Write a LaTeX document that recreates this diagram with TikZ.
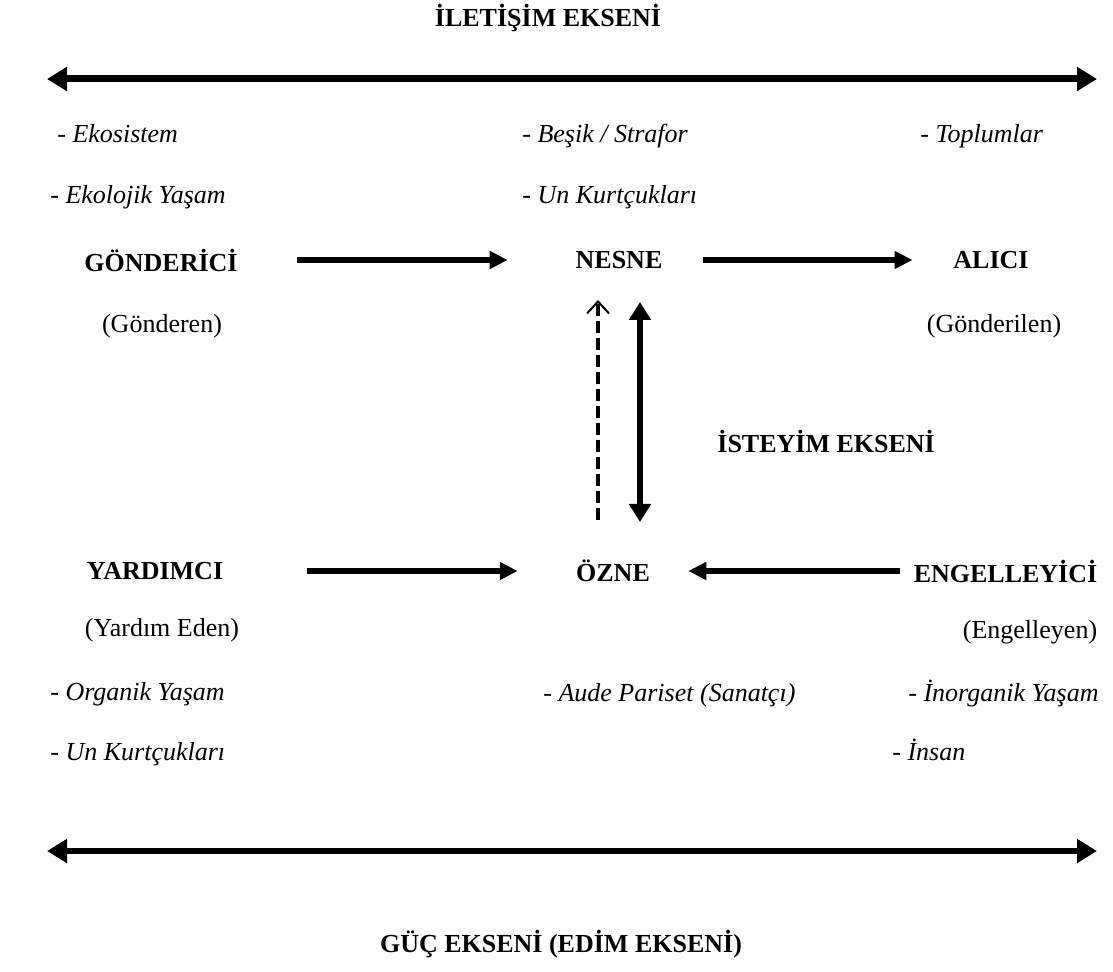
\documentclass[tikz,border=0pt]{standalone}
\usepackage{fontspec}
\setmainfont{Liberation Serif}
\usetikzlibrary{arrows.meta,positioning}

\newcommand{\yazi}{\fontsize{13}{15}\selectfont}

\tikzset{
    every node/.style={inner sep=0pt},
    duz/.style={font=\yazi},
    baslik/.style={font=\yazi\bfseries},
    madde/.style={font=\yazi\itshape,anchor=base west},
    eksen/.style={{Triangle[length=10pt,width=11.5pt]}-{Triangle[length=10pt,width=11.5pt]},line width=3.5pt},
    ok/.style={-{Triangle[length=9pt,width=8.5pt]},line width=3pt},
    ciftok/.style={{Triangle[length=9pt,width=10.5pt]}-{Triangle[length=9pt,width=10.5pt]},line width=3pt},
    kesikok/.style={-{Straight Barb[length=6pt,width=11pt,line width=1pt]},line width=2pt,dash pattern=on 6pt off 2.5pt}
}

\begin{document}
\begin{tikzpicture}[x=0.5pt,y=-0.5pt]
        \useasboundingbox (0,0) rectangle (1113,972);

        \node[baslik,anchor=base] (iletisim) at (548,27) {İLETİŞİM EKSENİ};
        \coordinate (ust-sol) at (47,79);
        \coordinate (ust-sag) at (1097,79);
        \draw[eksen] (ust-sol) -- (ust-sag);

        \node[madde] (m1) at (57,143) {- Ekosistem};
        \node[madde] (m2) at (50,204) {- Ekolojik Yaşam};
        \node[madde] (m3) at (522,143) {- Beşik / Strafor};
        \node[madde] (m4) at (522,204) {- Un Kurtçukları};
        \node[madde] (m5) at (920,143) {- Toplumlar};

        \node[baslik] (gonderici) at (161,260) {GÖNDERİCİ};
        \node[baslik] (nesne) at (619,260) {NESNE};
        \node[baslik] (alici) at (991,260) {ALICI};
        \node[duz] (gonderen) at (162,326) {(Gönderen)};
        \node[duz] (gonderilen) at (994,326) {(Gönderilen)};

        \draw[ok,shorten <=29.75pt,shorten >=33.8pt] (gonderici) -- (nesne);
        \draw[ok,shorten <=20.3pt,shorten >=20.25pt] (nesne) -- (alici);

        \coordinate (kesik-alt) at (598,520);
        \coordinate (kesik-ust) at (598,300);
        \coordinate (isteyim-ust) at (640,302);
        \coordinate (isteyim-alt) at (640,522);
        \draw[kesikok] (kesik-alt) -- (kesik-ust);
        \draw[ciftok] (isteyim-ust) -- (isteyim-alt);
        \node[baslik,anchor=base west] (isteyim) at (717,453) {İSTEYİM EKSENİ};

        \node[baslik] (yardimci) at (155,571) {YARDIMCI};
        \node[baslik] (ozne) at (613,571) {ÖZNE};
        \node[baslik] (engelleyici) at (1005.5,571) {ENGELLEYİCİ};
        \node[duz] (yardimeden) at (162,630) {(Yardım Eden)};
        \node[duz] (engelleyen) at (1030,632) {(Engelleyen)};

        \draw[ok,shorten <=41.8pt,shorten >=29pt] (yardimci) -- (ozne);
        \draw[ok,shorten <=6.9pt,shorten >=19pt] (engelleyici) -- (ozne);

        \node[madde] (m6) at (50,700) {- Organik Yaşam};
        \node[madde] (m7) at (50,760) {- Un Kurtçukları};
        \node[madde] (m8) at (543,701) {- Aude Pariset (Sanatçı)};
        \node[madde] (m9) at (908,701) {- İnorganik Yaşam};
        \node[madde] (m10) at (892,760) {- İnsan};

        \coordinate (alt-sol) at (47,851);
        \coordinate (alt-sag) at (1097,851);
        \draw[eksen,line width=3pt] (alt-sol) -- (alt-sag);
        \node[baslik,anchor=base] (guc) at (561,952) {GÜÇ EKSENİ (EDİM EKSENİ)};
    \end{tikzpicture}
\end{document}
